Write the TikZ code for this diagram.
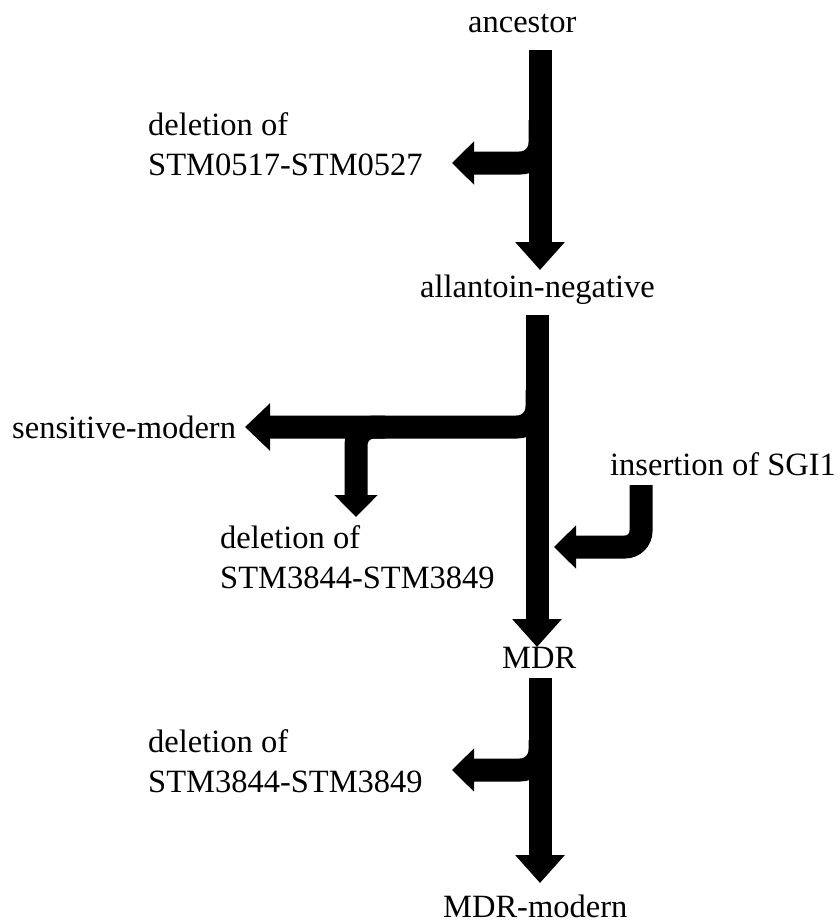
\documentclass[tikz,border=0pt]{standalone}
\usepackage{fontspec}
\setmainfont{Liberation Serif}
\usetikzlibrary{arrows.meta}
\begin{document}
\begin{tikzpicture}[x=1pt,y=-1pt,
  lbl/.style={font=\fontsize{32.5}{39}\selectfont, inner sep=0pt, anchor=base west},
  trunk/.style={line width=23pt, -{Triangle[width=48pt,length=28pt]}},
  twig/.style={line width=23pt, rounded corners=20pt, -{Triangle[width=42pt,length=22pt]}},
]
\useasboundingbox (0,0) rectangle (840,924);

% labels
\node[lbl] (anc)  at (468,32)  {ancestor};
\node[lbl] (d1a)  at (148,135) {deletion of};
\node[lbl] (d1b)  at (148,175) {STM0517-STM0527};
\node[lbl] (alla) at (420,297) {allantoin-negative};
\node[lbl] (sens) at (12,438)  {sensitive-modern};
\node[lbl] (ins)  at (610,475) {insertion of SGI1};
\node[lbl] (d2a)  at (220,548) {deletion of};
\node[lbl] (d2b)  at (220,588) {STM3844-STM3849};
\node[lbl] (mdr)  at (502,668) {MDR};
\node[lbl] (d3a)  at (148,752) {deletion of};
\node[lbl] (d3b)  at (148,792) {STM3844-STM3849};
\node[lbl] (mdrm) at (443,917) {MDR-modern};

% points on the arrows
\coordinate (a0) at (540,50);   \coordinate (a1) at (540,270);
\coordinate (ab) at (540,120);  \coordinate (ak) at (540,163); \coordinate (at) at (452,163);
\coordinate (b0) at (537,315);  \coordinate (b1) at (537,647);
\coordinate (bb) at (537,390);  \coordinate (bk) at (537,427); \coordinate (bt) at (245,427);
\coordinate (sb) at (385,427);  \coordinate (sk) at (356,427); \coordinate (st) at (356,517);
\coordinate (ib) at (641,485);  \coordinate (ik) at (641,547); \coordinate (it) at (554,547);
\coordinate (c0) at (540,678);  \coordinate (c1) at (540,883);
\coordinate (cb) at (540,740);  \coordinate (ck) at (540,770); \coordinate (ct) at (452,770);

% ancestor -> allantoin-negative
\draw[trunk] (a0) -- (a1);
\draw[twig] (ab) -- (ak) -- (at);

% allantoin-negative -> MDR
\draw[trunk] (b0) -- (b1);
\draw[twig, -{Triangle[width=46pt,length=25pt]}] (bb) -- (bk) -- (bt);
\draw[twig, rounded corners=18pt] (sb) -- (sk) -- (st);
\draw[twig, rounded corners=16pt] (ib) -- (ik) -- (it);

% MDR -> MDR-modern
\draw[trunk] (c0) -- (c1);
\draw[twig] (cb) -- (ck) -- (ct);
\end{tikzpicture}
\end{document}
